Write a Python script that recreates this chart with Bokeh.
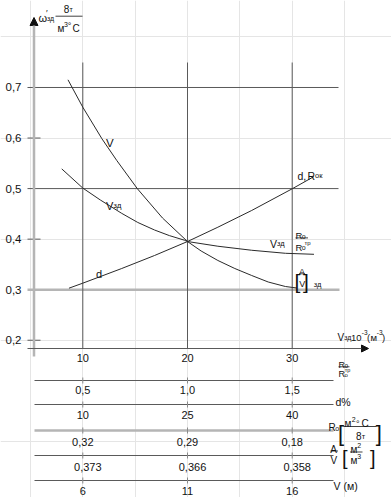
from bokeh.plotting import figure
from bokeh.models import Range1d, Arrow, NormalHead
from bokeh.core.properties import value
from bokeh.embed import file_html
from bokeh.resources import INLINE

# ---------------- data ----------------
y_ticks = [0.2, 0.3, 0.4, 0.5, 0.6, 0.7]
y_tick_labels = ["0,2", "0,3", "0,4", "0,5", "0,6", "0,7"]
x_ticks = [10, 20, 30]
x_tick_labels = ["10", "20", "30"]

v_x = [8.585, 10, 11.83, 13.245, 15.217, 17.613, 20, 21.30, 22.90, 24.52, 26.13, 27.71, 29.35, 30.42]
v_y = [0.7152, 0.6610, 0.5985, 0.5556, 0.4996, 0.4418, 0.3953, 0.3766, 0.3578, 0.3419, 0.3281,
       0.3152, 0.3063, 0.3034]

vzd_x = [7.99, 10, 11.67, 13.72, 15.25, 16.86, 18.27, 19.69, 20, 22.9, 26.13, 29.35, 32.08]
vzd_y = [0.539, 0.501, 0.4775, 0.451, 0.433, 0.418, 0.407, 0.398, 0.3953, 0.386, 0.378, 0.372,
         0.370]

d_x = [8.679, 10, 13.717, 16.858, 20, 22.901, 26.131, 30, 32.089]
d_y = [0.3030, 0.3129, 0.3419, 0.3677, 0.3953, 0.4236, 0.4567, 0.4996, 0.5239]

ratio_vals = ["0,5", "1,0", "1,5"]
d_pct_vals = ["10", "25", "40"]
ro_vals = ["0,32", "0,29", "0,18"]
av_vals = ["0,373", "0,366", "0,358"]
vm_vals = ["6", "11", "16"]

# ---------------- styling ----------------
FONT = "Liberation Sans"
TXT = "#111111"
DARK = "#5a5a5a"
GREY = "#b5b5b5"
CURVE = "#2a2a2a"

W, H = 391, 497
p = figure(width=W, height=H,
           x_range=Range1d(2.1395, 39.484), y_range=Range1d(-0.1111, 0.8721),
           x_axis_location=None, y_axis_location=None, toolbar_location=None,
           output_backend="svg", min_border=0, title=None)
p.extra_x_ranges = {"px": Range1d(0, W)}
p.extra_y_ranges = {"px": Range1d(H, 0)}
p.outline_line_color = None
p.background_fill_color = "white"
p.border_fill_color = "white"


def put(x, y, s, size, align="left", base="alphabetic", xr="px", yr="px", xo=0):
    p.text(x=[x], y=[y], text=[s], x_range_name=xr, y_range_name=yr,
           text_font=value(FONT), text_font_size=value(f"{size}px"),
           text_align=align, text_baseline=base, text_color=TXT, x_offset=xo)


def seg(x0, y0, x1, y1, color=TXT, width=0.8, xr="px", yr="px"):
    p.segment(x0=[x0], y0=[y0], x1=[x1], y1=[y1], line_color=color,
              line_width=width, x_range_name=xr, y_range_name=yr)


# ---------------- grid / ticks ----------------
for v in y_ticks:
    if v in (0.7, 0.5):
        seg(27, v, 338, v, DARK, 1, xr="px", yr="default")
    elif v == 0.3:
        seg(27, v, 339, v, GREY, 2.5, xr="px", yr="default")
    else:
        seg(27, v, 40, v, DARK, 1, xr="px", yr="default")

p.segment(x0=x_ticks, y0=[62] * 3, x1=x_ticks, y1=[348] * 3, line_color=DARK,
          line_width=1, y_range_name="px")

# axes with arrows
p.add_layout(Arrow(end=NormalHead(size=8, fill_color="#111111", line_color="#111111", line_width=1),
                   x_start=33.5, y_start=356, x_end=33.5, y_end=17,
                   x_range_name="px", y_range_name="px",
                   line_color=GREY, line_width=2.5))
p.add_layout(Arrow(end=NormalHead(size=7, fill_color="#111111", line_color="#111111", line_width=1),
                   x_start=27, y_start=348, x_end=368, y_end=348,
                   x_range_name="px", y_range_name="px",
                   line_color=DARK, line_width=1))

# ---------------- curves ----------------
p.line(v_x, v_y, line_color=CURVE, line_width=1)
p.line(vzd_x, vzd_y, line_color=CURVE, line_width=1)
p.line(d_x, d_y, line_color=CURVE, line_width=1)

# ---------------- tick labels ----------------
p.text(x=[21] * len(y_ticks), y=y_ticks, text=y_tick_labels, x_range_name="px",
       text_font=value(FONT), text_font_size=value("11.5px"), text_align="right",
       text_baseline="middle", text_color=TXT)
p.text(x=x_ticks, y=[357.5] * 3, text=x_tick_labels, y_range_name="px",
       text_font=value(FONT), text_font_size=value("11px"), text_align="center",
       text_baseline="middle", text_color=TXT)

# ---------------- axis titles ----------------
put(38, 17.5, "ω", 11)
put(45.5, 12.5, "′", 9)
put(46.5, 17.5, "зд", 7)
seg(55, 15.7, 82, 15.7)
put(63.3, 8.5, "8", 10)
put(69, 8.5, "т", 7)
put(57, 28, "м", 10)
put(63.5, 23.5, "3", 7)
put(67.3, 25, "°", 9)
put(72, 28, "C", 10)

put(337, 337.3, "V", 10)
put(343.8, 337.3, "зд", 7)
put(350.5, 337.3, "10", 9.5)
put(361.3, 332, "-3", 6.5)
put(366.5, 337.3, "(", 9.5)
put(370, 337.3, "м", 9.5)
put(376.3, 332, "-3", 6.5)
put(381.5, 337.3, ")", 9.5)

# ---------------- curve labels ----------------
put(105.5, 142, "V", 11.5)
put(105.5, 205, "V", 11)
put(112.8, 205, "зд", 8)
put(95.5, 273.3, "d", 11)
put(297, 175, "d,", 10.5)
put(307, 175, "R", 10.5)
put(314.5, 175, "ок", 7.5)
put(269.5, 243.3, "V", 10.5)
put(276.5, 243.3, "зд", 7.5)
put(295, 235, "R", 9.5)
put(301.3, 235.5, "o", 7)
seg(295, 237.4, 307.5, 237.4)
put(295, 246.7, "R", 9.5)
put(301.3, 247, "o", 7)
put(304, 242.5, "тр", 6)
put(294, 281, "[", 21)
put(298.5, 271.5, "A", 9)
seg(298.5, 273.3, 304.5, 273.3)
put(298.7, 283.5, "V", 9)
put(302.6, 281, "]", 21)
put(313.3, 284, "зд", 7.5)

# ---------------- bottom table ----------------
rows = [ratio_vals, d_pct_vals, ro_vals, av_vals, vm_vals]
row_line_y = [380, 404, 430, 455, 480]
row_text_y = [389, 414.5, 441.5, 466.5, 490]
row_shift = [0, 0, 0, 5, 0]
for i, vals in enumerate(rows):
    ly = row_line_y[i]
    if i == 2:
        seg(34, ly, 333, ly, GREY, 2.5)
    else:
        seg(34, ly, 333, ly, DARK, 1)
    p.segment(x0=x_ticks, y0=[ly - 3] * 3, x1=x_ticks, y1=[ly + 3] * 3,
              line_color="#8a8a8a", line_width=1, y_range_name="px")
    p.text(x=x_ticks, y=[row_text_y[i]] * 3, text=vals, y_range_name="px",
           text_font=value(FONT), text_font_size=value("11px"), text_align="center",
           text_baseline="middle", text_color=TXT, x_offset=row_shift[i])

# right-hand row titles
put(338, 364.8, "R", 9)
put(344, 365.2, "o", 6.5)
seg(338, 366.3, 349, 366.3)
put(338, 373.8, "R", 9)
put(344, 374.1, "o", 6)
put(344.3, 369.8, "тр", 5.5)

put(335, 401.7, "d%", 10.5)

put(328, 427.3, "R", 10)
put(334.8, 427.7, "o", 7)
put(337.5, 432.5, "[", 22)
put(344, 423, "м", 10)
put(351.3, 419, "2", 7)
put(355.5, 423.5, "°", 9)
put(361, 423, "C", 10)
seg(343, 426, 376, 426)
put(355.5, 435.5, "8", 10)
put(361.2, 435.5, "т", 7.5)
put(375.3, 432.5, "]", 22)

put(329.8, 448.5, "A", 10)
seg(330, 450.5, 337.5, 450.5)
put(330, 460, "V", 10)
put(341.5, 457, "[", 20)
put(350, 449, "м", 10)
put(356.8, 445, "2", 7)
seg(349.5, 451.5, 362, 451.5)
put(350, 460, "м", 10)
put(356.8, 456, "3", 7)
put(369.5, 457, "]", 20)

put(333, 485, "V (м)", 10.5)

open("out.html", "w").write(file_html(p, INLINE))
